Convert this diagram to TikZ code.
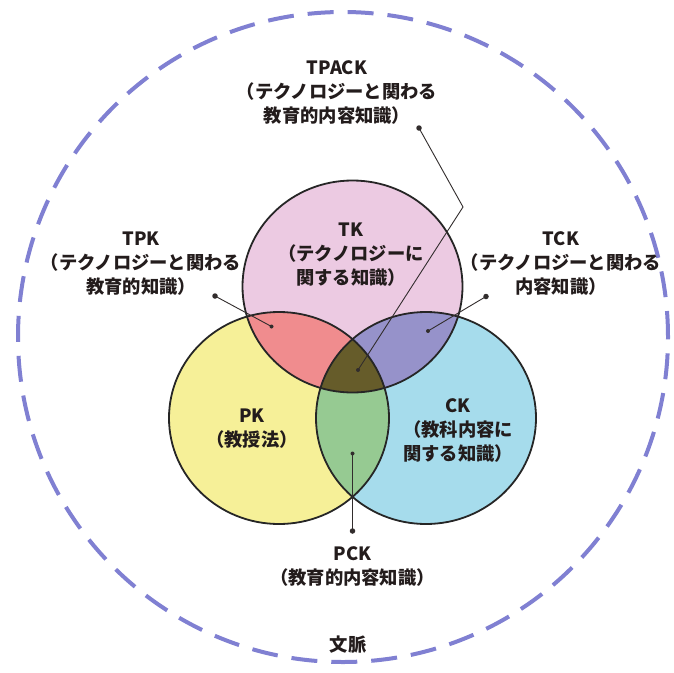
\documentclass[tikz,border=0pt]{standalone}
\usepackage{fontspec}
\setmainfont{Noto Sans CJK JP}
\definecolor{tkc}{RGB}{236,202,226}
\definecolor{pkc}{RGB}{246,240,152}
\definecolor{ckc}{RGB}{166,220,236}
\definecolor{tpkc}{RGB}{240,140,142}
\definecolor{tckc}{RGB}{150,146,202}
\definecolor{pckc}{RGB}{150,202,146}
\definecolor{tpackc}{RGB}{102,92,42}
\definecolor{ctxc}{RGB}{128,128,210}
\definecolor{ptrc}{RGB}{50,45,45}
\definecolor{txtc}{RGB}{35,28,28}
\begin{document}
\begin{tikzpicture}[x=1pt,y=-1pt,
  lbl/.style={text=txtc, align=center, inner sep=0pt, font=\fontsize{18.3}{24}\selectfont\bfseries},
  ptr/.style={draw=ptrc, line width=0.9pt},
  dotout/.style={circle, fill=ptrc, inner sep=0pt, minimum size=5.5pt},
  dotin/.style={circle, fill=ptrc, inner sep=0pt, minimum size=4pt},
  rim/.style={draw=black!85, line width=1.8pt},
  ctx/.style={draw=ctxc, line width=4pt, dash pattern=on 26pt off 14pt}]
\useasboundingbox (0,0) rectangle (674,672);
\fill[white] (0,0) rectangle (674,672);
\coordinate (tk) at (352.5,286.5);
\coordinate (pk) at (279,418);
\coordinate (ck) at (426,418);
\coordinate (ctxcen) at (343,337);
% context circle
\draw[ctx] (ctxcen) circle [radius=325pt];
% base fills
\fill[tkc] (tk) ellipse [x radius=110pt, y radius=106pt];
\fill[pkc] (pk) ellipse [x radius=110pt, y radius=106pt];
\fill[ckc] (ck) ellipse [x radius=110pt, y radius=106pt];
\begin{scope}
  \clip (tk) ellipse [x radius=110pt, y radius=106pt];
  \fill[tpkc] (pk) ellipse [x radius=110pt, y radius=106pt];
  \fill[tckc] (ck) ellipse [x radius=110pt, y radius=106pt];
\end{scope}
\begin{scope}
  \clip (pk) ellipse [x radius=110pt, y radius=106pt];
  \fill[pckc] (ck) ellipse [x radius=110pt, y radius=106pt];
  \clip (tk) ellipse [x radius=110pt, y radius=106pt];
  \fill[tpackc] (ck) ellipse [x radius=110pt, y radius=106pt];
\end{scope}
\draw[rim] (tk) ellipse [x radius=110pt, y radius=106pt];
\draw[rim] (pk) ellipse [x radius=110pt, y radius=106pt];
\draw[rim] (ck) ellipse [x radius=110pt, y radius=106pt];
% labels
\node[lbl] (tpack) at (337,93) {TPACK\\（テクノロジーと関わる\\教育的内容知識）};
\node[lbl] (tpk) at (141,263.5) {TPK\\（テクノロジーと関わる\\教育的知識）};
\node[lbl] (tck) at (561,263.5) {TCK\\（テクノロジーと関わる\\内容知識）};
\node[lbl] (tklbl) at (351,254.5) {TK\\（テクノロジーに\\関する知識）};
\node[lbl] (pklbl) at (252,429) {PK\\（教授法）};
\node[lbl] (cklbl) at (458,430.5) {CK\\（教科内容に\\関する知識）};
\node[lbl] (pck) at (352.5,566.5) {PCK\\（教育的内容知識）};
\node[lbl] (ctxlbl) at (348,645) {文脈};
% pointers
\node[dotout] (tpackdot) at (419,128) {};
\coordinate (tpackbend) at (463,207);
\node[dotin] (tpackin) at (358,370) {};
\draw[ptr] (tpackdot.center) -- (tpackbend) -- (tpackin.center);
\node[dotout] (tpkdot) at (215,296) {};
\node[dotin] (tpkin) at (271.5,326.5) {};
\draw[ptr] (tpkdot.center) -- (tpkin.center);
\node[dotout] (tckdot) at (486,296.5) {};
\node[dotin] (tckin) at (428,331) {};
\draw[ptr] (tckdot.center) -- (tckin.center);
\node[dotout] (pckdot) at (352.5,531) {};
\node[dotin] (pckin) at (352.5,453.5) {};
\draw[ptr] (pckdot.center) -- (pckin.center);
\end{tikzpicture}
\end{document}
